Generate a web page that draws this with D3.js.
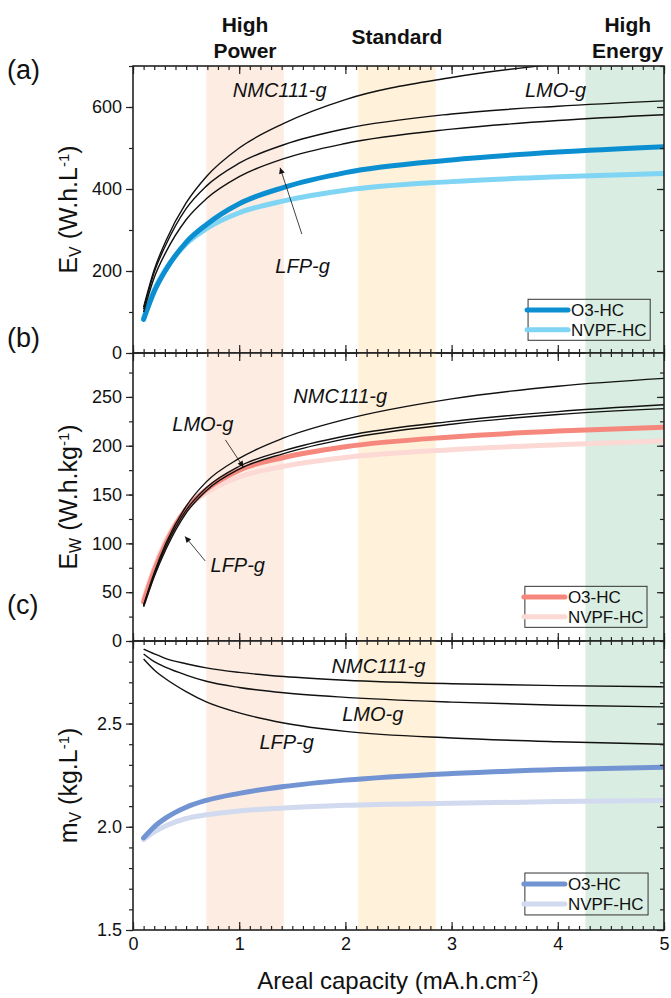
<html>
<head>
<script src="https://d3js.org/d3.v7.min.js"></script>
<style>
body { margin: 0; background: #fff; }
text { font-family: "Liberation Sans", Arial, sans-serif; fill: #111; }
.lab { font-style: italic; font-size: 20px; }
.head { font-weight: bold; font-size: 21px; }
</style>
</head>
<body>
<svg id="chart" width="671" height="998"></svg>
<script>
var svg = d3.select("#chart");

// areal capacity (mA.h.cm-2) at which the curves were read
var cap = [0.1, 0.2, 0.31, 0.5, 0.69, 1, 1.42, 2, 3, 4, 5];

// (a) volumetric energy density, W.h/L
var evNMC  = [112, 203, 274, 366, 430, 500, 560, 618, 672, 705, 725];
var evLMO  = [107, 197, 264, 352, 407, 463, 508, 547, 583, 602, 615];
var evLFP  = [100, 184, 246, 325, 376, 430, 474, 511, 546, 567, 581];
var evO3   = [82, 150, 203, 270, 313, 364, 404, 440, 471, 490, 503];
var evNVPF = [86, 154, 205, 266, 303, 342, 371, 397, 418, 430, 438];

// (b) gravimetric energy density, W.h/kg
var ewNMC  = [37, 70, 100, 138, 163, 187, 208, 227, 248, 261, 269];
var ewLMO  = [36, 68, 97, 134, 157, 179, 195, 210, 225, 235, 242];
var ewLFP  = [35, 66, 94, 131, 154, 176, 192, 207, 222, 232, 238];
var ewO3   = [40, 72, 100, 135, 155, 175, 188, 199, 209, 215, 219];
var ewNVPF = [43, 75, 103, 135, 152, 168, 179, 188, 196, 201, 205];

// (c) volumetric mass, kg/L
var mvNMC  = [2.861, 2.838, 2.815, 2.790, 2.770, 2.748, 2.728, 2.710, 2.693, 2.684, 2.678];
var mvLMO  = [2.837, 2.800, 2.772, 2.735, 2.705, 2.675, 2.649, 2.627, 2.604, 2.589, 2.581];
var mvLFP  = [2.813, 2.760, 2.716, 2.655, 2.605, 2.552, 2.503, 2.462, 2.430, 2.412, 2.400];
var mvO3   = [1.946, 2.000, 2.043, 2.095, 2.128, 2.162, 2.195, 2.226, 2.258, 2.277, 2.289];
var mvNVPF = [1.938, 1.975, 2.005, 2.040, 2.058, 2.077, 2.091, 2.104, 2.114, 2.122, 2.127];

// usage windows
var bands = [
  {name: ["High", "Power"], x0: 0.69, x1: 1.42, color: "#fdece2"},
  {name: ["Standard"], x0: 2.12, x1: 2.85, color: "#fff1da"},
  {name: ["High", "Energy"], x0: 4.26, x1: 5, color: "#d9ede2"}
];

var x = d3.scaleLinear().domain([0, 5]).range([133, 664]);

var panels = [
  {tag: "(a)", top: 66, bottom: 353, dom: [0, 700], major: 200, minor: 100, fmt: d3.format("d"),
   title: ["E", "V", " (W.h.L", "-1", ")"], tagY: 79,
   black: [evNMC, evLMO, evLFP], o3: evO3, nvpf: evNVPF, c1: "#0b8fd1", c2: "#7fd5f3",
   labels: [{t: "NMC111-g", x: 0.94, y: 624}, {t: "LMO-g", x: 3.69, y: 624}, {t: "LFP-g", x: 1.34, y: 195}],
   arrows: [{x0: 1.59, y0: 290, x1: 1.385, y1: 452}],
   leg: [3.72, 4.87, 131, 31]},
  {tag: "(b)", top: 353, bottom: 641, dom: [0, 295], major: 50, minor: 25, fmt: d3.format("d"),
   title: ["E", "W", " (W.h.kg", "-1", ")"], tagY: 347,
   black: [ewNMC, ewLMO, ewLFP], o3: ewO3, nvpf: ewNVPF, c1: "#f6877c", c2: "#fcd9d4",
   labels: [{t: "NMC111-g", x: 1.51, y: 244}, {t: "LFP-g", x: 0.73, y: 71}, {t: "LMO-g", x: 0.37, y: 215}],
   arrows: [{x0: 0.87, y0: 206, x1: 1.04, y1: 178}, {x0: 0.68, y0: 82, x1: 0.49, y1: 107}],
   leg: [3.69, 4.84, 56, 14]},
  {tag: "(c)", top: 641, bottom: 930, dom: [1.5, 2.9], major: 0.5, minor: 0.1, fmt: d3.format(".1f"),
   title: ["m", "V", " (kg.L", "-1", ")"], tagY: 614,
   black: [mvNMC, mvLMO, mvLFP], o3: mvO3, nvpf: mvNVPF, c1: "#7294d2", c2: "#d2daef",
   labels: [{t: "NMC111-g", x: 1.87, y: 2.743}, {t: "LMO-g", x: 1.97, y: 2.513}, {t: "LFP-g", x: 1.19, y: 2.375}],
   arrows: [],
   leg: [3.69, 4.85, 1.776, 1.573]}
];

svg.append("defs").append("marker")
   .attr("id", "arr").attr("viewBox", "0 0 10 10")
   .attr("refX", 10).attr("refY", 5)
   .attr("markerWidth", 10).attr("markerHeight", 6)
   .attr("markerUnits", "userSpaceOnUse")
   .attr("orient", "auto")
 .append("path").attr("d", "M0,0 L10,5 L0,10 z").attr("fill", "#111");

var xMinor = d3.range(0, 5.001, 0.1);

panels.forEach(function(p, i) {
  var y = d3.scaleLinear().domain(p.dom).range([p.bottom, p.top]);
  var g = svg.append("g");

  // shaded windows
  g.selectAll("rect.band").data(bands).enter().append("rect")
    .attr("x", function(d) { return x(d.x0); })
    .attr("width", function(d) { return x(d.x1) - x(d.x0); })
    .attr("y", p.top).attr("height", p.bottom - p.top)
    .attr("fill", function(d) { return d.color; });

  var line = d3.line()
    .x(function(d, k) { return x(cap[k]); })
    .y(function(d) { return y(d); })
    .curve(d3.curveMonotoneX);

  var clipId = "clip" + i;
  svg.append("clipPath").attr("id", clipId).append("rect")
    .attr("x", x(0)).attr("y", p.top).attr("width", x(5) - x(0)).attr("height", p.bottom - p.top);

  var curves = g.append("g").attr("clip-path", "url(#" + clipId + ")");
  curves.append("path").attr("d", line(p.nvpf)).attr("fill", "none")
    .attr("stroke", p.c2).attr("stroke-width", 5).attr("stroke-linecap", "round");
  curves.append("path").attr("d", line(p.o3)).attr("fill", "none")
    .attr("stroke", p.c1).attr("stroke-width", 5).attr("stroke-linecap", "round");
  p.black.forEach(function(s) {
    curves.append("path").attr("d", line(s)).attr("fill", "none")
      .attr("stroke", "#111").attr("stroke-width", 1.4);
  });

  // material labels and arrows
  p.labels.forEach(function(l) {
    g.append("text").attr("class", "lab").attr("x", x(l.x)).attr("y", y(l.y)).text(l.t);
  });
  p.arrows.forEach(function(a) {
    g.append("line").attr("x1", x(a.x0)).attr("y1", y(a.y0))
      .attr("x2", x(a.x1)).attr("y2", y(a.y1))
      .attr("stroke", "#111").attr("stroke-width", 0.8).attr("marker-end", "url(#arr)");
  });

  // legend
  var lx0 = x(p.leg[0]), lx1 = x(p.leg[1]), ly0 = y(p.leg[2]), ly1 = y(p.leg[3]);
  g.append("rect").attr("x", lx0).attr("y", ly0).attr("width", lx1 - lx0).attr("height", ly1 - ly0)
    .attr("fill", "none").attr("stroke", "#333").attr("stroke-width", 1);
  [["O3-HC", p.c1], ["NVPF-HC", p.c2]].forEach(function(e, k) {
    var ry = ly0 + (ly1 - ly0) * (k === 0 ? 0.26 : 0.74);
    g.append("line").attr("x1", lx0 - 1).attr("x2", lx0 + 40).attr("y1", ry).attr("y2", ry)
      .attr("stroke", e[1]).attr("stroke-width", 5).attr("stroke-linecap", "round");
    g.append("text").attr("x", lx0 + 43).attr("y", ry + 6).style("font-size", "17px").text(e[0]);
  });

  // axes
  var yMajor = d3.range(p.dom[0], p.dom[1] + 1e-9, p.major);
  var yMinor = d3.range(p.dom[0], p.dom[1] + 1e-9, p.minor);

  g.append("g").attr("transform", "translate(" + x(0) + ",0)")
    .call(d3.axisLeft(y).tickValues(yMinor).tickSize(4).tickFormat(""));
  g.append("g").attr("transform", "translate(" + x(0) + ",0)")
    .call(d3.axisLeft(y).tickValues(yMajor).tickSize(7).tickPadding(4).tickFormat(p.fmt));
  g.append("g").attr("transform", "translate(" + x(5) + ",0)")
    .call(d3.axisLeft(y).tickValues(yMinor).tickSize(4).tickFormat(""));
  g.append("g").attr("transform", "translate(" + x(5) + ",0)")
    .call(d3.axisLeft(y).tickValues(yMajor).tickSize(7).tickFormat(""));

  g.append("g").attr("transform", "translate(0," + p.bottom + ")")
    .call(d3.axisTop(x).tickValues(xMinor).tickSize(4).tickFormat(""));
  g.append("g").attr("transform", "translate(0," + p.bottom + ")")
    .call(d3.axisTop(x).ticks(5).tickSize(8).tickFormat(""));
  g.append("g").attr("transform", "translate(0," + p.top + ")")
    .call(d3.axisBottom(x).tickValues(xMinor).tickSize(4).tickFormat(""));
  g.append("g").attr("transform", "translate(0," + p.top + ")")
    .call(d3.axisBottom(x).ticks(5).tickSize(8).tickFormat(""));

  g.selectAll(".domain").remove();
  g.selectAll(".tick line").attr("stroke", "#222").attr("stroke-width", 1.2);
  g.selectAll(".tick text").style("font-size", "18px").attr("fill", "#111")
    .style("font-family", "'Liberation Sans', Arial, sans-serif");

  g.append("rect").attr("x", x(0)).attr("y", p.top)
    .attr("width", x(5) - x(0)).attr("height", p.bottom - p.top)
    .attr("fill", "none").attr("stroke", "#222").attr("stroke-width", 1.6);

  // y title
  var t = g.append("text").attr("transform", "translate(77," + ((p.top + p.bottom) / 2) + ") rotate(-90)")
    .attr("text-anchor", "middle").style("font-size", "25px");
  t.append("tspan").text(p.title[0]);
  t.append("tspan").attr("baseline-shift", "-25%").style("font-size", "16px").text(p.title[1]);
  t.append("tspan").text(p.title[2]);
  t.append("tspan").attr("baseline-shift", "super").style("font-size", "15px").text(p.title[3]);
  t.append("tspan").text(p.title[4]);

  svg.append("text").attr("x", 7).attr("y", p.tagY).style("font-size", "27px").text(p.tag);
});

// x labels on bottom panel
svg.append("g").attr("transform", "translate(0,930)")
  .call(d3.axisBottom(x).ticks(5).tickSize(0).tickPadding(7).tickFormat(d3.format("d")))
  .call(function(a) {
    a.select(".domain").remove();
    a.selectAll("text").style("font-size", "18px").attr("fill", "#111")
      .style("font-family", "'Liberation Sans', Arial, sans-serif");
  });

var xt = svg.append("text").attr("x", 398).attr("y", 989).attr("text-anchor", "middle").style("font-size", "24px");
xt.append("tspan").text("Areal capacity (mA.h.cm");
xt.append("tspan").attr("baseline-shift", "super").style("font-size", "15px").text("-2");
xt.append("tspan").text(")");

// window headings
bands.forEach(function(b) {
  var cx = (x(b.x0) + x(b.x1)) / 2;
  if (b.name.length === 1) {
    svg.append("text").attr("class", "head").attr("x", cx).attr("y", 44)
      .attr("text-anchor", "middle").text(b.name[0]);
  } else {
    b.name.forEach(function(s, k) {
      svg.append("text").attr("class", "head").attr("x", cx + (b.x1 === 5 ? 3 : 0)).attr("y", 32 + k * 26)
        .attr("text-anchor", "middle").text(s);
    });
  }
});
</script>
</body>
</html>
